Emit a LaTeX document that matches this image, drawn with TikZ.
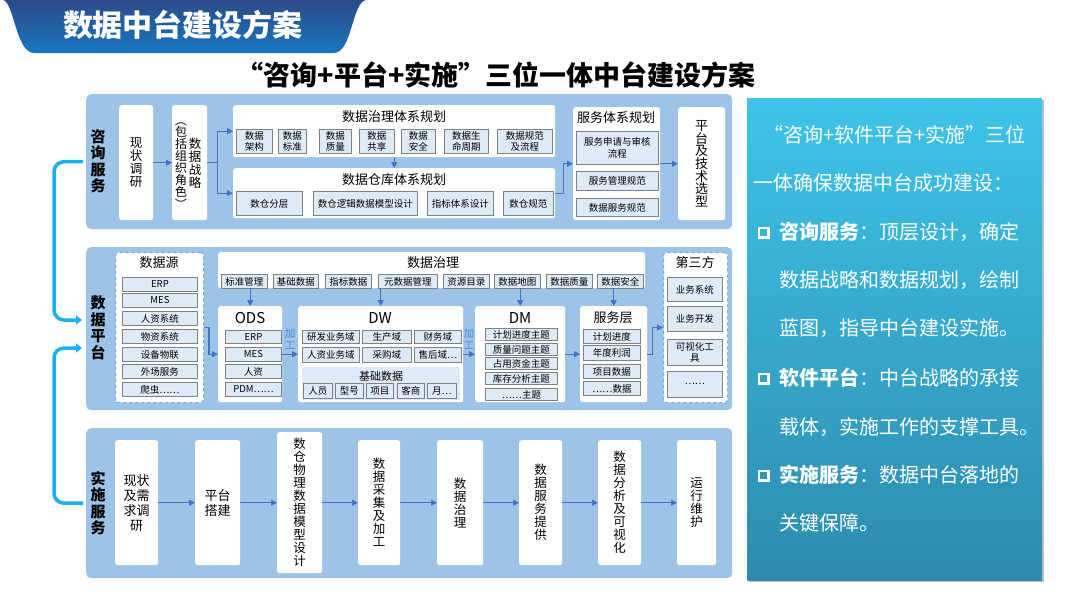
\documentclass[tikz,border=0pt]{standalone}
\usepackage{fontspec}
\setmainfont{Noto Sans CJK SC}
\usetikzlibrary{arrows.meta,calc}
\definecolor{pnl}{HTML}{9DC3E6}
\definecolor{itm}{HTML}{DEEBF7}
\definecolor{itb}{HTML}{808080}
\definecolor{arc}{HTML}{4472C4}
\definecolor{brk}{HTML}{1AAFEF}
\definecolor{hda}{HTML}{2C4A8A}
\definecolor{hdb}{HTML}{1877BF}
\definecolor{rpa}{HTML}{3EC4EA}
\definecolor{rpb}{HTML}{2D8BAD}
\definecolor{dsh}{HTML}{7FA6D9}
\definecolor{jgc}{HTML}{4A8AD6}
\newcommand\fsz[2]{\fontsize{#1}{#2}\selectfont}
\newcommand\bx[7]{\node[#1,anchor=north west,minimum width=#5,minimum height=#6] (#2) at (#3,#4) {#7};}
\newcommand\rpar[1]{\rotatebox[origin=c]{-90}{#1}}
\begin{document}
\begin{tikzpicture}[x=1pt,y=-1pt,
  panel/.style={fill=pnl,rounded corners=5pt,inner sep=0pt},
  wbox/.style={fill=white,rounded corners=2.5pt,inner sep=0pt,align=center},
  item/.style={fill=itm,draw=itb,line width=0.9pt,inner sep=0pt,align=center,font=\fsz{9.5}{11.5}},
  dbox/.style={fill=white,draw=dsh,dashed,line width=1pt,rounded corners=3pt,inner sep=0pt},
  arr/.style={draw=arc,line width=1.2pt,-{Triangle[length=6pt,width=6pt]}},
  brkt/.style={draw=brk,line width=3.5pt,rounded corners=10pt,-{Triangle[length=6pt,width=9pt]}},
  lbl/.style={font=\bfseries\fsz{15}{16.5},align=center,inner sep=0pt},
  vt/.style={font=\fsz{12.5}{13},align=center},
  vtb/.style={font=\fsz{13}{15},align=center},
  ttl/.style={font=\fsz{13}{13},inner sep=0pt},
  jg/.style={font=\fsz{10.5}{12.5},text=jgc,align=center,inner sep=0pt},
  rtx/.style={font=\fsz{20}{20},text=white,anchor=west,inner sep=0pt},
  bul/.style={draw=white,line width=2.5pt,minimum size=9.5pt,inner sep=0pt}
]
\useasboundingbox (0,0) rectangle (1080,608);
\fill[white] (0,0) rectangle (1080,608);
% header
\shade[top color=hda,bottom color=hdb] (3,0) -- (366,0) .. controls (352,2) and (352,53) .. (334,53) -- (34,53) .. controls (16,53) and (14,2) .. (3,0) -- cycle;
\node[font=\bfseries\fsz{30}{30},text=white] (htitle) at (183,25) {数据中台建设方案};
\node[font=\bfseries\fsz{27}{27}] (mtitle) at (496,75) {“咨询+平台+实施”三位一体中台建设方案};

% ===== panel 1 =====
\bx{panel}{p1}{86}{94}{646}{135}{}
\node[lbl] (l1) at (98,161) {咨\\询\\服\\务};
\bx{wbox,vt}{xz}{119}{105}{34}{115}{现\\状\\调\\研}
\bx{wbox}{zl}{172}{105}{35}{115}{}
\node[vt,inner sep=0pt] (zla) at (195,163) {数\\据\\战\\略};
\node[font=\fsz{12}{12},align=center,inner sep=0pt] (zlb) at (181,162) {\rpar{（}\\包\\括\\组\\织\\角\\色\\\rpar{）}};
\draw[arr] (xz.east) -- (zl.west);

\bx{wbox}{gov}{233}{105}{322}{52}{}
\node[ttl] (govt) at (394,117) {数据治理体系规划};
\bx{item}{g1}{236}{129}{36}{24}{数据\\架构}
\bx{item}{g2}{278}{129}{28}{24}{数据\\标准}
\bx{item}{g3}{319}{129}{32}{24}{数据\\质量}
\bx{item}{g4}{359}{129}{35}{24}{数据\\共享}
\bx{item}{g5}{401}{129}{34}{24}{数据\\安全}
\bx{item}{g6}{444}{129}{44}{24}{数据生\\命周期}
\bx{item}{g7}{497}{129}{55}{24}{数据规范\\及流程}

\bx{wbox}{whp}{233}{168}{322}{50}{}
\node[ttl] (whpt) at (394,180) {数据仓库体系规划};
\bx{item}{w1}{236}{191}{66}{24}{数仓分层}
\bx{item}{w2}{313}{191}{104}{24}{数仓逻辑数据模型设计}
\bx{item}{w3}{427}{191}{66}{24}{指标体系设计}
\bx{item}{w4}{503}{191}{50}{24}{数仓规范}
\draw[arr] (gov.south) -- (whp.north);
\draw[arr] (zl.east) -- ++(10,0) |- (gov.west);
\draw[arr] (zl.east) -- ++(10,0) |- (whp.west);

\bx{wbox}{fw}{573}{107}{87}{113}{}
\node[ttl] (fwt) at (616,118) {服务体系规划};
\bx{item}{f1}{576}{131}{82}{33}{服务申请与审核\\流程}
\bx{item}{f2}{576}{171}{82}{19}{服务管理规范}
\bx{item}{f3}{576}{198}{82}{18}{数据服务规范}
\draw[arr] (whp.east) -- ++(8,0) |- (fw.west);
\bx{wbox,font=\fsz{13}{12.6}}{pt}{678}{107}{47}{113}{平\\台\\及\\技\\术\\选\\型}
\draw[arr] (fw.east) -- (pt.west);

% ===== panel 2 =====
\bx{panel}{p2}{86}{247}{646}{163}{}
\node[lbl] (l2) at (98,328) {数\\据\\平\\台};
\bx{dbox}{src}{115}{252}{88}{150}{}
\node[ttl] (srct) at (159,263) {数据源};
\bx{item}{s1}{122}{277}{75}{14}{ERP}
\bx{item}{s2}{122}{293}{75}{14}{MES}
\bx{item}{s3}{122}{311}{75}{14}{人资系统}
\bx{item}{s4}{122}{329}{75}{14}{物资系统}
\bx{item}{s5}{122}{347}{75}{14}{设备物联}
\bx{item}{s6}{122}{364}{75}{14}{外场服务}
\bx{item}{s7}{122}{382}{75}{14}{爬虫……}

\bx{wbox}{dg}{218}{252}{427}{36}{}
\node[ttl] (dgt) at (433,263) {数据治理};
\bx{item}{d1}{221}{274}{46}{14}{标准管理}
\bx{item}{d2}{273}{274}{45}{14}{基础数据}
\bx{item}{d3}{325}{274}{46}{14}{指标数据}
\bx{item}{d4}{378}{274}{59}{14}{元数据管理}
\bx{item}{d5}{443}{274}{46}{14}{资源目录}
\bx{item}{d6}{494}{274}{46}{14}{数据地图}
\bx{item}{d7}{546}{274}{46}{14}{数据质量}
\bx{item}{d8}{597}{274}{46}{14}{数据安全}

\bx{wbox}{ods}{218}{306}{64}{96}{}
\node[font=\fsz{15}{15},inner sep=0pt] (odst) at (250,318) {ODS};
\bx{item}{o1}{225}{330}{56}{13}{ERP}
\bx{item}{o2}{225}{347}{56}{14}{MES}
\bx{item}{o3}{225}{364}{56}{14}{人资}
\bx{item}{o4}{225}{382}{56}{14}{PDM……}

\bx{wbox}{dw}{298}{306}{165}{96}{}
\node[font=\fsz{15}{15},inner sep=0pt] (dwt) at (380,318) {DW};
\bx{item}{dwa}{302}{330}{57}{13}{研发业务域}
\bx{item}{dwb}{362}{330}{49}{13}{生产域}
\bx{item}{dwc}{414}{330}{47}{13}{财务域}
\bx{item}{dwd}{302}{347}{57}{15}{人资业务域}
\bx{item}{dwe}{362}{347}{49}{15}{采购域}
\bx{item}{dwf}{414}{347}{47}{15}{售后域…}
\node[fill=itm,rounded corners=2pt,anchor=north west,minimum width=158,minimum height=33,inner sep=0pt] (jc) at (302,367) {};
\node[font=\fsz{11}{11},inner sep=0pt] (jct) at (381,376) {基础数据};
\bx{item}{ja}{303}{383}{29}{15}{人员}
\bx{item}{jb}{335}{383}{28}{15}{型号}
\bx{item}{jcc}{366}{383}{27}{15}{项目}
\bx{item}{jd}{397}{383}{27}{15}{客商}
\bx{item}{je}{427}{383}{29}{15}{月…}

\bx{wbox}{dm}{475}{306}{90}{96}{}
\node[font=\fsz{15}{15},inner sep=0pt] (dmt) at (520,318) {DM};
\bx{item}{m1}{485}{328}{72}{12}{计划进度主题}
\bx{item}{m2}{485}{343}{72}{12}{质量问题主题}
\bx{item}{m3}{485}{357}{72}{12}{占用资金主题}
\bx{item}{m4}{485}{372}{72}{12}{库存分析主题}
\bx{item}{m5}{485}{388}{72}{12}{……主题}

\bx{wbox}{svc}{580}{306}{67}{96}{}
\node[font=\fsz{13}{13},inner sep=0pt] (svct) at (613,318) {服务层};
\bx{item}{v1}{583}{329}{57}{14}{计划进度}
\bx{item}{v2}{583}{345}{57}{15}{年度利润}
\bx{item}{v3}{583}{364}{57}{14}{项目数据}
\bx{item}{v4}{583}{381}{57}{14}{……数据}

\bx{dbox}{thd}{663}{252}{64}{150}{}
\node[ttl] (thdt) at (695,263) {第三方};
\bx{item}{t1}{667}{277}{55}{24}{业务系统}
\bx{item}{t2}{667}{306}{55}{25}{业务开发}
\bx{item}{t3}{667}{339}{55}{26}{可视化工\\具}
\bx{item}{t4}{667}{371}{55}{26}{……}

\draw[arr] (src.east) -- ++(5,0) |- (ods.west);
\draw[arr] (ods.east) -- (dw.west);
\draw[arr] (dw.east) -- (dm.west);
\draw[arr] (dm.east) -- (svc.west);
\draw[arr] (svc.east) -- ++(5,0) |- (thd.west);
\node[jg] (jg1) at (290,339) {加\\工};
\node[jg] (jg2) at (469,339) {加\\工};
\draw[arr] (ods.north |- dg.south) -- (ods.north);
\draw[arr] (dw.north |- dg.south) -- (dw.north);
\draw[arr] (dm.north |- dg.south) -- (dm.north);
\draw[arr] (svc.north |- dg.south) -- (svc.north);

% ===== panel 3 =====
\bx{panel}{p3}{86}{428}{646}{150}{}
\node[lbl] (l3) at (98,503) {实\\施\\服\\务};
\bx{wbox,vtb}{b1}{115}{440}{43}{125}{现状\\及需\\求调\\研}
\bx{wbox,vtb}{b2}{195}{440}{45}{125}{平台\\搭建}
\bx{wbox,vt}{b3}{277}{432}{45}{141}{数\\仓\\物\\理\\数\\据\\模\\型\\设\\计}
\bx{wbox,vt}{b4}{358}{440}{42}{125}{数\\据\\采\\集\\及\\加\\工}
\bx{wbox,vt}{b5}{437}{440}{46}{125}{数\\据\\治\\理}
\bx{wbox,vt}{b6}{519}{440}{43}{125}{数\\据\\服\\务\\提\\供}
\bx{wbox,vt}{b7}{598}{440}{43}{125}{数\\据\\分\\析\\及\\可\\视\\化}
\bx{wbox,vt}{b8}{677}{440}{39}{125}{运\\行\\维\\护}
\foreach \a/\b in {b1/b2,b2/b3,b3/b4,b4/b5,b5/b6,b6/b7,b7/b8}
  \draw[arr] (\a.east) -- (\b.west);

% brackets
\coordinate (in1) at (82,320);
\coordinate (in2) at (82,348);
\draw[brkt] ([xshift=-3pt]p1.west) -- ++(-29,0) |- (in1);
\draw[brkt] ([xshift=-3pt]p3.west) -- ++(-29,0) |- (in2);

% ===== right panel =====
\fill[black!25] (749,100) rectangle (1044,582);
\node[anchor=north west,minimum width=295,minimum height=482,inner sep=0pt,top color=rpa,bottom color=rpb] (rp) at (747,98) {};
\node[rtx] (r1) at (763,135) {“咨询+软件平台+实施”三位};
\node[rtx] (r2) at (753,183) {一体确保数据中台成功建设：};
\node[rtx] (r3) at (779,232) {\textbf{咨询服务}：顶层设计，确定};
\node[rtx] (r4) at (779,280) {数据战略和数据规划，绘制};
\node[rtx] (r5) at (779,328) {蓝图，指导中台建设实施。};
\node[rtx] (r6) at (779,378) {\textbf{软件平台}：中台战略的承接};
\node[rtx] (r7) at (779,427) {载体，实施工作的支撑工具。};
\node[rtx] (r8) at (779,475) {\textbf{实施服务}：数据中台落地的};
\node[rtx] (r9) at (779,523) {关键保障。};
\node[bul] (q1) at (763.5,232.5) {};
\node[bul] (q2) at (763.5,378.5) {};
\node[bul] (q3) at (763.5,475.5) {};
\end{tikzpicture}
\end{document}
